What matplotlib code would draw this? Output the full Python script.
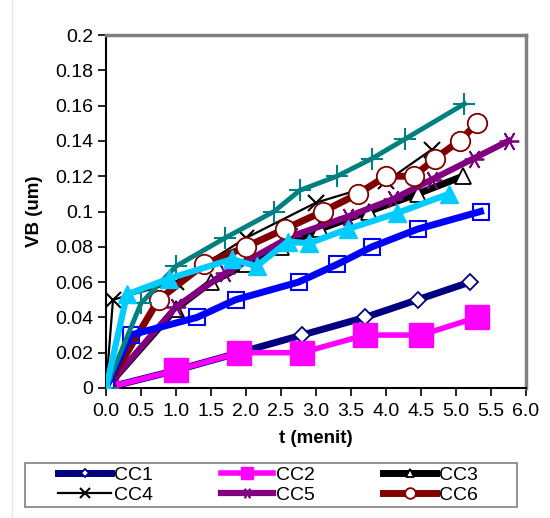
import matplotlib
matplotlib.use('Agg')
import matplotlib.pyplot as plt
from matplotlib.lines import Line2D
from matplotlib.patches import Rectangle
from matplotlib.ticker import MultipleLocator, FuncFormatter

plt.rcParams['font.family'] = ['Liberation Sans', 'DejaVu Sans']

# Data (t in menit, VB in um)
cc1_t = [0, 1.0, 1.9, 2.8, 3.7, 4.45, 5.2]
cc1_vb = [0, 0.01, 0.02, 0.03, 0.04, 0.05, 0.06]

cc2_t = [0, 1.0, 1.9, 2.8, 3.7, 4.5, 5.3]
cc2_vb = [0, 0.01, 0.02, 0.02, 0.03, 0.03, 0.04]

cc3_t = [0, 1.0, 1.5, 2.0, 2.5, 3.05, 3.75, 4.45, 5.1]
cc3_vb = [0, 0.045, 0.06, 0.07, 0.08, 0.09, 0.10, 0.11, 0.12]

cc4_t = [0, 0.1, 1.0, 2.0, 3.0, 4.0, 4.65]
cc4_vb = [0, 0.05, 0.06, 0.085, 0.105, 0.117, 0.135]

cc5_t = [0, 1.0, 1.7, 2.65, 3.45, 4.1, 4.65, 5.25, 5.75]
cc5_vb = [0, 0.046, 0.065, 0.086, 0.097, 0.107, 0.118, 0.13, 0.14]

cc6_t = [0, 0.75, 1.4, 2.0, 2.55, 3.1, 3.6, 4.0, 4.4, 4.7, 5.05, 5.3]
cc6_vb = [0, 0.05, 0.07, 0.08, 0.09, 0.10, 0.11, 0.12, 0.12, 0.13, 0.14, 0.15]

# series without legend entries (legend in the source is cut off)
cc7_t = [0, 0.35, 1.3, 1.85, 2.75, 3.3, 3.8, 4.45, 5.35]
cc7_vb = [0, 0.03, 0.04, 0.05, 0.06, 0.07, 0.08, 0.09, 0.10]

cc8_t = [0, 0.5, 1.0, 1.7, 2.4, 2.77, 3.3, 3.8, 4.27, 5.12]
cc8_vb = [0, 0.048, 0.069, 0.085, 0.10, 0.112, 0.12, 0.13, 0.141, 0.161]

cc9_t = [0, 0.3, 0.9, 1.8, 2.15, 2.6, 2.9, 3.45, 4.15, 4.9]
cc9_vb = [0, 0.053, 0.062, 0.073, 0.069, 0.083, 0.082, 0.09, 0.099, 0.11]

fig = plt.figure(figsize=(5.5, 5.18), dpi=100)
ax = fig.add_axes([106/550, 1-388/518, 420/550, 353/518])

l1, = ax.plot(cc1_t, cc1_vb, color='#000080', lw=5, marker='D', ms=8, mfc='white', mec='#000080', mew=1.3, label='CC1', zorder=2)
l2, = ax.plot(cc2_t, cc2_vb, color='#FF00FF', lw=4, marker='s', ms=17, mfc='#FF00FF', mec='#FF00FF', label='CC2', zorder=3)
l3, = ax.plot(cc3_t, cc3_vb, color='black', lw=5, marker='^', ms=11, mfc='white', mec='black', mew=1.3, label='CC3', zorder=4)
l4, = ax.plot(cc4_t, cc4_vb, color='black', lw=1.6, marker='x', ms=12, mec='black', mew=1.5, label='CC4', zorder=5)
l5, = ax.plot(cc5_t, cc5_vb, color='#800080', lw=4.5, marker=(6, 2, 90), ms=14, mec='#800080', mew=1.3, label='CC5', zorder=6)
l6, = ax.plot(cc6_t, cc6_vb, color='#800000', lw=5, marker='o', ms=14, mfc='white', mec='#800000', mew=1.3, label='CC6', zorder=7)
ax.plot(cc7_t, cc7_vb, color='#0000FF', lw=5, marker='s', ms=12, mfc='none', mec='#0000FF', mew=1.5, zorder=8)
ax.plot(cc8_t, cc8_vb, color='#008080', lw=3.5, marker='+', ms=16, mec='#008080', mew=1.5, zorder=9)
ax.plot(cc9_t, cc9_vb, color='#00CCFF', lw=4.5, marker='^', ms=13, mfc='#00CCFF', mec='#00CCFF', zorder=10)

ax.set_xlim(0, 6)
ax.set_ylim(0, 0.2)
ax.xaxis.set_major_locator(MultipleLocator(0.5))
ax.yaxis.set_major_locator(MultipleLocator(0.02))
ax.xaxis.set_major_formatter(FuncFormatter(lambda v, p: '%.1f' % v))
ax.yaxis.set_major_formatter(FuncFormatter(lambda v, p: '%g' % round(v, 2)))
ax.tick_params(direction='out', length=6, width=1.2, labelsize=14, pad=3)
ax.tick_params(axis='x', pad=5)

for s in ['top', 'right']:
    ax.spines[s].set_color('#808080')
    ax.spines[s].set_linewidth(2.5)
for s in ['left', 'bottom']:
    ax.spines[s].set_color('black')
    ax.spines[s].set_linewidth(1.5)

ax.set_xlabel('t (menit)', fontsize=13.5, fontweight='bold', labelpad=7)
ax.set_ylabel('VB (um)', fontsize=13.5, fontweight='bold', labelpad=9)

# legend is filled row by row in the source, so order the handles column-wise
handles = [l1, l4, l2, l5, l3, l6]
leg = fig.legend(handles=handles, labels=[h.get_label() for h in handles],
                 loc='center', bbox_to_anchor=(268/550, 1-485/518), ncol=3,
                 fontsize=14, handlelength=2.7, handletextpad=0.15, columnspacing=3.5,
                 labelspacing=0.15, borderpad=0, markerscale=0.55, frameon=False)
fig.add_artist(Rectangle((25/550, 1-507/518), 492/550, 44/518, transform=fig.transFigure,
                         fill=False, edgecolor='#808080', lw=1.2))

# faint page border line at the left
fig.add_artist(Line2D([12/550, 12/550], [0, 1], color='#e6e6e6', lw=1))

fig.savefig('out.png', dpi=100, facecolor='white')
